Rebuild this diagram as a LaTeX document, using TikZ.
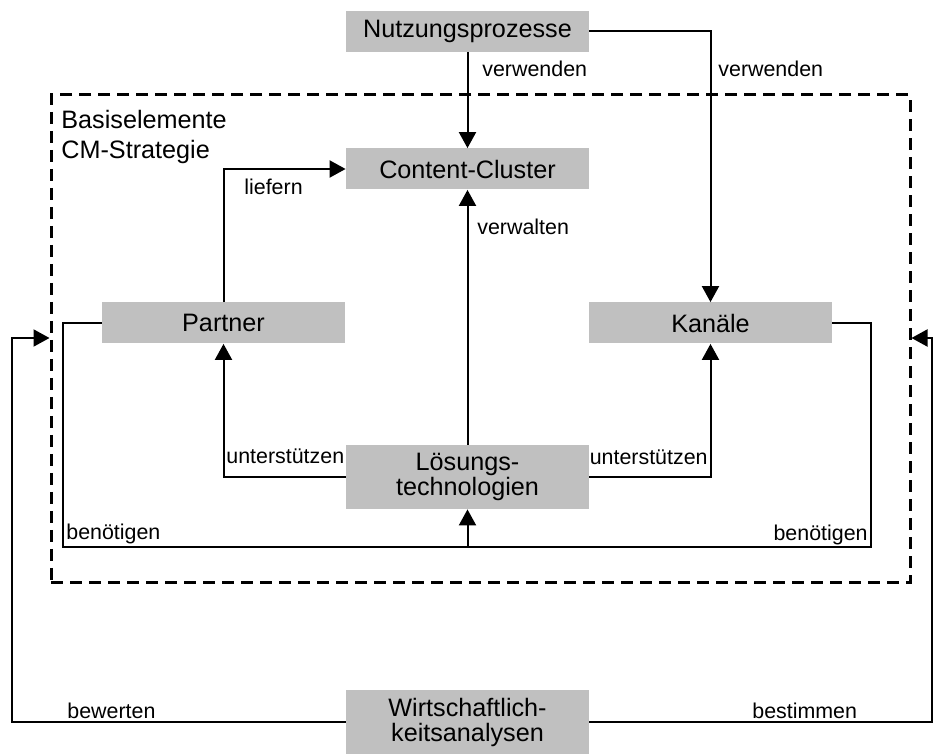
\documentclass[tikz,border=0pt]{standalone}
\usepackage{fontspec}
\setmainfont{Liberation Sans}
\usepackage{xcolor}
\usetikzlibrary{positioning, calc, arrows.meta}

\definecolor{boxgray}{RGB}{192,192,192}

\tikzset{
  elem/.style={fill=boxgray, minimum width=121.5pt, minimum height=20.5pt,
    inner sep=0pt, align=center, font=\fontsize{12.6}{12.5}\selectfont},
  elemtall/.style={elem, minimum height=32pt},
  basisbox/.style={draw, line width=1.5pt, dash pattern=on 6pt off 3.5pt,
    minimum width=429.5pt, minimum height=244pt, inner sep=0pt},
  lbl/.style={inner sep=0pt, font=\fontsize{10.7}{12}\selectfont},
  conn/.style={line width=1pt},
  arr/.style={conn, -{Triangle[length=8pt,width=8.5pt]}}
}

\begin{document}
\begin{tikzpicture}[x=0.5pt, y=-0.5pt]
      \useasboundingbox (0,0) rectangle (934,754);
      % dashed frame
      \node[basisbox] (basis) at (480.5,339) {};
      \node[anchor=north west, inner sep=0pt, align=left,
        font=\fontsize{12.6}{15}\selectfont] (basistitle) at (61,110) {Basiselemente\\CM-Strategie};
      % elements
      \node[elem] (nutz) at (467.5,31.5) {Nutzungsprozesse};
      \node[elem] (content) at (467.5,169) {Content-Cluster};
      \node[elem] (partner) at (223.5,323) {Partner};
      \node[elem] (kanaele) at (710.5,323) {Kanäle};
      \node[elemtall] (loesung) at (467.5,477) {Lösungs-\\technologien};
      \node[elemtall] (wirt) at (467.5,722) {Wirtschaftlich-\\keitsanalysen};
      % helper points
      \coordinate (needl) at (63,547);
      \coordinate (needr) at (871,547);
      \coordinate (needm) at (467.5,547);
      \coordinate (evall) at (12,338);
      \coordinate (evalr) at (932,338);
      % connectors
      \draw[arr] (nutz.south) -- (content.north);
      \draw[arr] (nutz.east) -| (kanaele.north);
      \draw[arr] (partner.north) |- (content.west);
      \draw[arr] (loesung.north) -- (content.south);
      \draw[arr] (loesung.west) -| (partner.south);
      \draw[arr] (loesung.east) -| (kanaele.south);
      \draw[conn] (partner.west) -| (needl) -- (needr) |- (kanaele.east);
      \draw[arr] (needm) -- (loesung.south);
      \draw[arr] (wirt.west) -| (evall) -- (evall -| basis.west);
      \draw[arr] (wirt.east) -| (evalr) -- (evalr -| basis.east);
      % labels
      \node[lbl, anchor=base west] (use1) at (482,77) {verwenden};
      \node[lbl, anchor=base west] (use2) at (718,77) {verwenden};
      \node[lbl, anchor=base west] (deliver) at (244,195) {liefern};
      \node[lbl, anchor=base west] (manage) at (477,235) {verwalten};
      \node[lbl, anchor=base west] (supl) at (226,464) {unterstützen};
      \node[lbl, anchor=base east] (supr) at (708,465) {unterstützen};
      \node[lbl, anchor=base west] (needlbl) at (66,540) {benötigen};
      \node[lbl, anchor=base east] (needrbl) at (868,541) {benötigen};
      \node[lbl, anchor=base west] (rate) at (67,719) {bewerten};
      \node[lbl, anchor=base west] (fix) at (752,719) {bestimmen};
    \end{tikzpicture}
\end{document}
